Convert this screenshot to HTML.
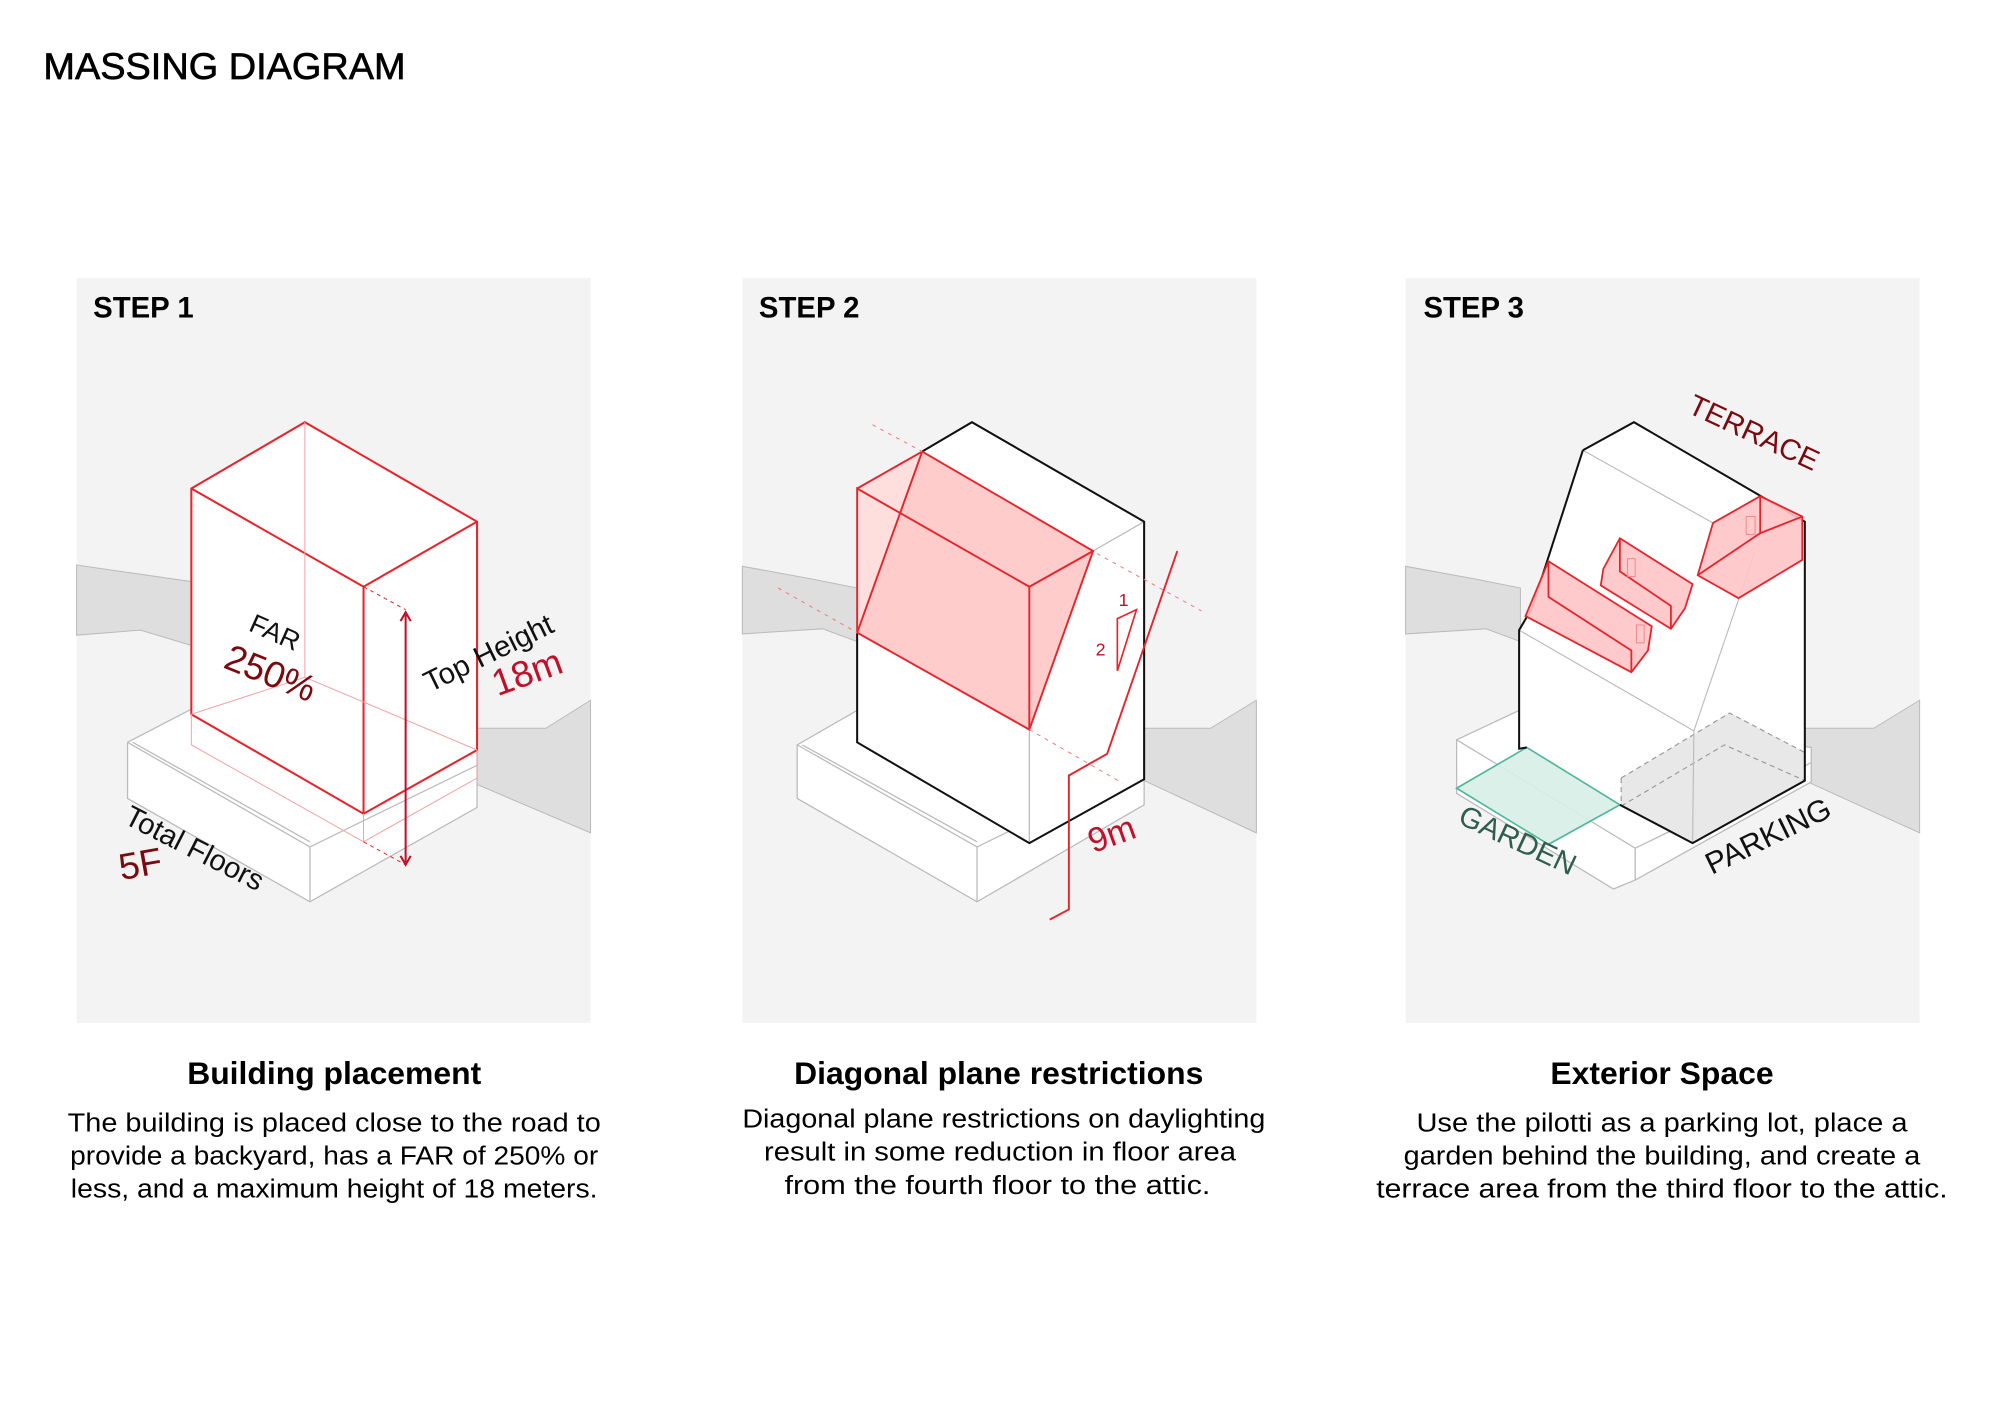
<!DOCTYPE html>
<html><head><meta charset="utf-8"><style>
html,body{margin:0;padding:0;background:#fff;}
svg{display:block;}
text{font-family:"Liberation Sans",sans-serif;}
</style></head><body>
<svg width="2000" height="1414" viewBox="0 0 1568 1108.6" xmlns="http://www.w3.org/2000/svg">
<rect width="1568" height="1109" fill="#fff"/>
<text x="34" y="62" font-size="29" textLength="284" lengthAdjust="spacingAndGlyphs" fill="#000" stroke="#000" stroke-width="0.5">MASSING DIAGRAM</text>

<!-- PANEL 1 -->
<rect x="60" y="218" width="403" height="584" fill="#f3f3f3"/>
<polygon points="60,443 150,456 150,506 110,494 60,498" fill="#dedede" stroke="#bbb" stroke-width="0.8"/>
<polygon points="374,571 428,571 463,549 463,653 374,615" fill="#dedede" stroke="#bbb" stroke-width="0.8"/>
<g fill="#fff" stroke="#bbb" stroke-width="1">
<polygon points="100,582 150,556 374,588 374,633 243,707 100,626"/>
<polyline points="100,582 243,664 374,600" fill="none"/>
<polyline points="104,582 243,660" fill="none"/>
<line x1="243" y1="664" x2="243" y2="707"/>
</g>
<g fill="#fff" stroke="#e8232b" stroke-width="1.6">
<polygon points="150,383 239,331 374,409 374,588 285,638 150,560"/>
<polyline points="150,383 285,460 374,409" fill="none"/>
<line x1="285" y1="460" x2="285" y2="638"/>
</g>
<g stroke="#f4a3a6" stroke-width="0.8" fill="none">
<line x1="239" y1="331" x2="239" y2="531"/>
<polyline points="150,560 239,531 374,588"/>
<polyline points="150,584 285,660 374,610"/>
<line x1="150" y1="560" x2="150" y2="584"/>
<line x1="285" y1="638" x2="285" y2="660"/>
<line x1="374" y1="588" x2="374" y2="610"/>
</g>
<g stroke="#e8232b" stroke-width="0.8" stroke-dasharray="3,3" fill="none">
<line x1="285" y1="460" x2="318" y2="478"/>
<line x1="285" y1="660" x2="318" y2="678"/>
</g>
<g stroke="#c0102a" stroke-width="1.6" fill="none">
<line x1="318" y1="482" x2="318" y2="676"/>
<polyline points="314,487 318,480 322,487"/>
<polyline points="314,671 318,678 322,671"/>
</g>
<text x="73" y="249" font-size="23" font-weight="bold" fill="#000">STEP 1</text>
<text transform="translate(194,494) rotate(24)" font-size="21" fill="#111">FAR</text>
<text transform="translate(174,523) rotate(22)" font-size="29" fill="#7a0a10">250%</text>
<text transform="translate(337,543) rotate(-26)" font-size="23" fill="#111">Top Height</text>
<text transform="translate(390,546) rotate(-20)" font-size="29" fill="#c0102a">18m</text>
<text transform="translate(96,645) rotate(27)" font-size="23" fill="#111">Total Floors</text>
<text transform="translate(95,690) rotate(-10)" font-size="29" fill="#7a0a10">5F</text>

<!-- PANEL 2 -->
<rect x="582" y="218" width="403" height="584" fill="#f3f3f3"/>
<polygon points="582,444 637,454 672,461 672,503 645,493 582,497" fill="#dedede" stroke="#bbb" stroke-width="0.8"/>
<polygon points="897,571 949,571 985,549 985,653 897,612" fill="#dedede" stroke="#bbb" stroke-width="0.8"/>
<g fill="#fff" stroke="#bbb" stroke-width="1">
<polygon points="625,584 672,557 897,600 897,631 766,707 625,626"/>
<polyline points="625,584 766,664 897,600" fill="none"/>
<polyline points="629,584 766,660" fill="none"/>
<line x1="766" y1="664" x2="766" y2="707"/>
</g>
<polygon points="672,383 762,331 897,409 897,611 807,661 672,582" fill="#fff"/>
<polygon points="723,354 857,432 807,572 672,496" fill="#ffcccc"/>
<polygon points="672,383 723,354 672,496" fill="#ffdede"/>
<g stroke="#bbb" stroke-width="1" fill="none">
<line x1="857" y1="432" x2="897" y2="409"/>
<line x1="807" y1="572" x2="807" y2="661"/>
</g>
<polyline points="723,354 762,331 897,409 897,611 807,661 672,582 672,496" fill="none" stroke="#111" stroke-width="1.6"/>
<g stroke="#e8232b" stroke-width="1.5" fill="none">
<polyline points="672,496 672,383 807,460 857,432"/>
<line x1="672" y1="383" x2="723" y2="354"/>
<polygon points="723,354 857,432 807,572 672,496"/>
<line x1="807" y1="460" x2="807" y2="572"/>
<polyline points="923,432 868,591 838,608 838,713 823,721"/>
<polygon points="876,485 891,478 876,526" stroke-width="1.3"/>
</g>
<g stroke="#ef7a7f" stroke-width="0.8" stroke-dasharray="3,4" fill="none">
<line x1="684" y1="333" x2="723" y2="354"/>
<line x1="860" y1="434" x2="942" y2="479"/>
<line x1="610" y1="461" x2="672" y2="496"/>
<line x1="807" y1="572" x2="880" y2="614"/>
</g>
<text x="595" y="249" font-size="23" font-weight="bold" fill="#000">STEP 2</text>
<text x="877" y="475" font-size="14" fill="#c0102a">1</text>
<text x="859" y="514" font-size="14" fill="#c0102a">2</text>
<text transform="translate(857,669) rotate(-20)" font-size="27" fill="#c0102a">9m</text>

<!-- PANEL 3 -->
<rect x="1102" y="218" width="403" height="584" fill="#f3f3f3"/>
<polygon points="1102,444 1157,454 1192,461 1192,503 1165,493 1102,497" fill="#dedede" stroke="#bbb" stroke-width="0.8"/>
<polygon points="1415,571 1469,571 1505,549 1505,653 1415,612" fill="#dedede" stroke="#bbb" stroke-width="0.8"/>
<g fill="#fff" stroke="#bbb" stroke-width="1">
<polygon points="1142,580 1191,557 1420,586 1420,613 1282,690 1265,697 1142,622"/>
<polyline points="1142,580 1282,665 1420,598" fill="none"/>
<line x1="1282" y1="665" x2="1282" y2="690"/>
</g>
<polygon points="1191,587 1191,494 1201,477 1241,353 1281,331 1415,409 1415,612 1327,661" fill="#fff"/>
<polygon points="1271,610 1356,559 1415,590 1415,612 1327,661 1271,632" fill="#e8e8e8"/>
<g stroke="#999" stroke-width="0.9" stroke-dasharray="4,3" fill="none">
<polyline points="1271,610 1356,559 1415,590"/>
<polyline points="1271,632 1352,584 1415,612"/>
<line x1="1271" y1="610" x2="1271" y2="632"/>
</g>
<g stroke="#bbb" stroke-width="0.9" fill="none">
<line x1="1241" y1="353" x2="1343" y2="410"/>
<polyline points="1376,432 1328,573 1327,661"/>
<line x1="1191" y1="494" x2="1328" y2="573"/>
</g>
<polygon points="1142,618 1197,586 1270,631 1214,662" fill="#d6eee5" fill-opacity="0.9" stroke="#4fb89a" stroke-width="1.3"/>
<polyline points="1241,353 1281,331 1415,409 1415,612 1327,661 1270,631" fill="none" stroke="#111" stroke-width="1.6"/>
<polyline points="1241,353 1201,477 1191,494 1191,587 1197,586" fill="none" stroke="#111" stroke-width="1.6"/>
<g fill="#ffc4c6" fill-opacity="0.9" stroke="#e8232b" stroke-width="1.4">
<polygon points="1214,440 1295,491 1292,510 1279,527 1196,483"/>
<polyline points="1214,440 1214,468 1279,510 1279,527" fill="none"/>
<polygon points="1270,422 1327,458 1321,477 1310,493 1255,459 1257,446"/>
<polyline points="1270,422 1270,448 1310,475 1310,493" fill="none"/>
<polygon points="1343,410 1380,389 1413,405 1413,439 1363,469 1331,451"/>
<polyline points="1380,389 1380,418 1331,451" fill="none"/>
<polyline points="1380,418 1413,405" fill="none"/>
</g>
<g stroke="#f08a8e" stroke-width="0.8" fill="none">
<rect x="1369" y="405" width="7" height="14"/>
<rect x="1276" y="438" width="6" height="14"/>
<rect x="1283" y="490" width="6" height="14"/>
</g>
<text x="1116" y="249" font-size="23" font-weight="bold" fill="#000">STEP 3</text>
<text transform="translate(1322,323) rotate(25)" font-size="23" fill="#7a0a10">TERRACE</text>
<text transform="translate(1142,645) rotate(25)" font-size="23" fill="#2e5e4e">GARDEN</text>
<text transform="translate(1342,686) rotate(-26)" font-size="24" fill="#111">PARKING</text>

<!-- CAPTIONS -->
<g fill="#000" text-anchor="middle">
<text x="262" y="850" font-size="25" font-weight="bold">Building placement</text>
<text x="262" y="887" font-size="20" textLength="418" lengthAdjust="spacingAndGlyphs">The building is placed close to the road to</text>
<text x="262" y="913" font-size="20" textLength="414" lengthAdjust="spacingAndGlyphs">provide a backyard, has a FAR of 250% or</text>
<text x="262" y="939" font-size="20" textLength="413" lengthAdjust="spacingAndGlyphs">less, and a maximum height of 18 meters.</text>
<text x="783" y="850" font-size="25" font-weight="bold">Diagonal plane restrictions</text>
<text x="787" y="884" font-size="20" textLength="410" lengthAdjust="spacingAndGlyphs">Diagonal plane restrictions on daylighting</text>
<text x="784" y="910" font-size="20" textLength="370" lengthAdjust="spacingAndGlyphs">result in some reduction in floor area</text>
<text x="782" y="936" font-size="20" textLength="334" lengthAdjust="spacingAndGlyphs">from the fourth floor to the attic.</text>
<text x="1303" y="850" font-size="25" font-weight="bold">Exterior Space</text>
<text x="1303" y="887" font-size="20" textLength="385" lengthAdjust="spacingAndGlyphs">Use the pilotti as a parking lot, place a</text>
<text x="1303" y="913" font-size="20" textLength="405" lengthAdjust="spacingAndGlyphs">garden behind the building, and create a</text>
<text x="1303" y="939" font-size="20" textLength="448" lengthAdjust="spacingAndGlyphs">terrace area from the third floor to the attic.</text>
</g>
</svg>
</body></html>
